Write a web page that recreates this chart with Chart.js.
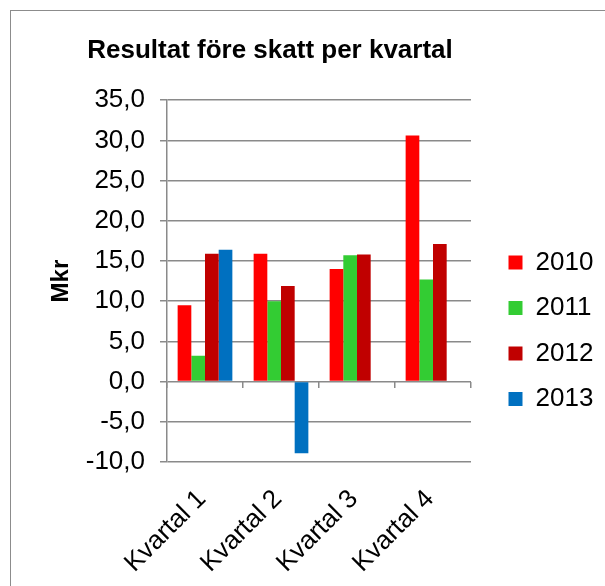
<!DOCTYPE html>
<html>
<head>
<meta charset="utf-8">
<script src="https://cdn.jsdelivr.net/npm/chart.js@4"></script>
<style>
  html, body { margin: 0; padding: 0; background: #fff; overflow: hidden; }
  #wrap { position: relative; width: 605px; height: 586px; }
  #frame { position: absolute; left: 10px; top: 10px; width: 700px; height: 700px;
           border: 1.5px solid #8c8c8c; pointer-events: none; }
</style>
</head>
<body>
<div id="wrap">
  <canvas id="chart" width="605" height="586"></canvas>
  <div id="frame"></div>
</div>
<script>
/* data */
const quarters = ['Kvartal 1', 'Kvartal 2', 'Kvartal 3', 'Kvartal 4'];
const years    = ['2010', '2011', '2012', '2013'];
const v2010 = [9.5, 15.9, 14.0, 30.6];
const v2011 = [3.2, 10.0, 15.7, 12.7];
const v2012 = [15.9, 11.9, 15.8, 17.1];
const v2013 = [16.4, -8.9, null, null];
const yTicks = [-10, -5, 0, 5, 10, 15, 20, 25, 30, 35];

const C_RED  = '#ff0000';
const C_GRN  = '#33cc33';
const C_DRED = '#c00000';
const C_BLUE = '#0070c0';
const C_GRID = '#8a8a8a';

const FONT = 'Arial, "Liberation Sans", sans-serif';

const series = [v2010, v2011, v2012, v2013];
const colors = [C_RED, C_GRN, C_DRED, C_BLUE];

// put legend column and title where the reference has them
const placeBlocks = {
  id: 'placeBlocks',
  afterLayout(chart) {
    const lg = chart.legend;
    if (lg) {
      lg.left = 489; lg.right = 605; lg.width = 116;
      lg.top = 230; lg.bottom = 586; lg.height = 356;
    }
    const t = chart.titleBlock;
    if (t) { t.left -= 43; t.right -= 43; }
  }
};

new Chart(document.getElementById('chart'), {
  type: 'bar',
  data: {
    labels: quarters,
    datasets: series.map((d, i) => ({
      label: years[i], data: d, backgroundColor: colors[i],
      borderWidth: 0, barPercentage: 1.0, categoryPercentage: 0.72
    }))
  },
  plugins: [placeBlocks],
  options: {
    responsive: false,
    animation: false,
    layout: { padding: { left: 40, right: 19, top: 25, bottom: 0 } },
    plugins: {
      title: {
        display: true, text: 'Resultat före skatt per kvartal', color: '#000',
        font: { family: FONT, size: 26, weight: 'bold' },
        padding: { top: 10, bottom: 34 }
      },
      legend: {
        position: 'right', align: 'start',
        labels: { boxWidth: 14, boxHeight: 14, padding: 19.5, color: '#000',
                  font: { family: FONT, size: 26 } }
      },
      tooltip: { enabled: false }
    },
    scales: {
      x: {
        grid: { display: false }, border: { display: false },
        afterFit: s => { s.height = 124; },
        ticks: { color: '#000', font: { family: FONT, size: 26 },
                 maxRotation: 45, minRotation: 45, padding: 14, labelOffset: -3 }
      },
      x0: {
        type: 'category', position: { y: 0 },
        grid: { offset: true, drawOnChartArea: false, drawTicks: true,
                tickLength: 6, color: C_GRID, lineWidth: 1.5 },
        border: { display: false },
        ticks: { display: false }
      },
      y: {
        min: -10, max: 35,
        afterBuildTicks: axis => { axis.ticks = yTicks.map(v => ({ value: v })); },
        afterFit: s => { s.width = 127; },
        grid: { color: C_GRID, lineWidth: 1.5, tickLength: 7 },
        border: { color: C_GRID, width: 1.5 },
        ticks: { color: '#000', font: { family: FONT, size: 26 }, padding: 15,
                 callback: v => v.toFixed(1).replace('.', ',') },
        title: { display: true, text: 'Mkr', color: '#000',
                 font: { family: FONT, size: 24, weight: 'bold' },
                 padding: { top: 7, bottom: 0 } }
      },
      yR: {
        type: 'linear', position: 'right',
        grid: { display: false }, border: { display: false },
        ticks: { display: false },
        afterFit: s => { s.width = 24; }
      }
    }
  }
});
</script>
</body>
</html>
